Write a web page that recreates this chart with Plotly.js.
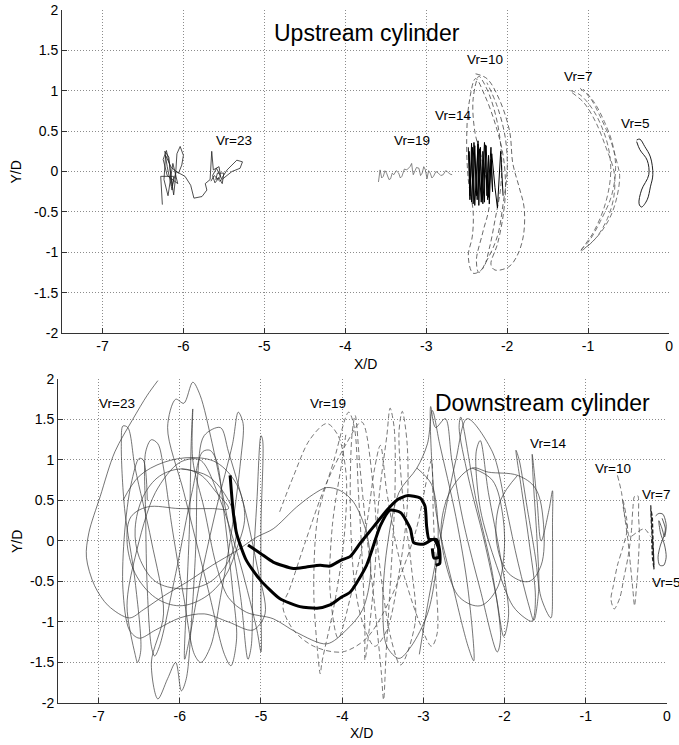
<!DOCTYPE html>
<html>
<head>
<meta charset="utf-8">
<script src="https://cdn.plot.ly/plotly-3.0.1.min.js"></script>
<style>html,body{margin:0;padding:0;background:#fff;}#chart{width:679px;height:745px;}</style>
</head>
<body>
<div id="chart"></div>
<script>
// ---------- tick labels ----------
const xTickVals = [-7, -6, -5, -4, -3, -2, -1, 0];
const xTickText = ["-7", "-6", "-5", "-4", "-3", "-2", "-1", "0"];
const yTickVals = [2, 1.5, 1, 0.5, 0, -0.5, -1, -1.5, -2];
const yTickText = ["2", "1.5", "1", "0.5", "0", "-0.5", "-1", "-1.5", "-2"];

// ---------- Upstream cylinder trajectories (X/D, Y/D) ----------
const upVr23 = [[-6.26,-0.41],[-6.28,-0.06],[-6.12,-0.06],[-6.14,-0.23],[-6.20,0.06],[-6.23,0.25],[-6.18,0.18],[-6.16,-0.02],[-6.12,-0.29],[-6.10,-0.10],[-6.08,0.22],[-6.04,0.31],[-6.00,0.20],[-6.02,0.08],[-6.06,-0.02],[-6.15,0.05],[-6.22,0.20],[-6.24,-0.10],[-6.19,-0.30],[-6.13,0.10],[-6.07,-0.15],[-6.20,-0.05],[-6.25,0.15],[-6.21,0.26],[-6.17,0.08],[-6.14,-0.18],[-6.09,0.00],[-5.98,-0.06],[-5.91,-0.17],[-5.87,-0.33],[-5.77,-0.31],[-5.71,-0.23],[-5.73,-0.15],[-5.67,-0.10],[-5.65,0.25],[-5.63,0.02],[-5.56,0.06],[-5.54,-0.06],[-5.60,-0.10],[-5.58,-0.02],[-5.50,-0.02],[-5.52,-0.15],[-5.56,-0.08],[-5.61,-0.14],[-5.64,-0.05],[-5.59,0.04],[-5.53,-0.09],[-5.46,0.02],[-5.40,0.08],[-5.34,0.14],[-5.27,0.12],[-5.30,0.04],[-5.40,0.00],[-5.48,-0.06],[-5.55,-0.12],[-5.62,-0.05],[-5.66,-0.12]];
const upVr19 = [[-3.59,-0.13],[-3.58,0.00],[-3.57,0.02],[-3.55,-0.08],[-3.53,-0.06],[-3.51,0.01],[-3.49,-0.02],[-3.46,-0.10],[-3.44,-0.09],[-3.42,-0.02],[-3.40,-0.04],[-3.37,0.01],[-3.34,-0.02],[-3.32,-0.08],[-3.30,-0.06],[-3.27,0.03],[-3.24,0.02],[-3.20,0.06],[-3.18,0.10],[-3.17,0.02],[-3.16,-0.04],[-3.12,0.05],[-3.09,0.04],[-3.07,-0.05],[-3.05,-0.02],[-3.03,0.06],[-3.01,0.02],[-2.99,-0.09],[-2.97,0.01],[-2.95,-0.02],[-2.93,-0.08],[-2.91,-0.06],[-2.88,0.00],[-2.85,-0.02],[-2.82,-0.05],[-2.79,-0.04],[-2.76,0.01],[-2.74,0.00],[-2.71,-0.03],[-2.68,-0.04]];
const upVr14 = [[-2.48,0.30],[-2.46,-0.35],[-2.44,0.35],[-2.42,-0.40],[-2.40,0.32],[-2.38,-0.30],[-2.36,0.38],[-2.35,-0.42],[-2.33,0.30],[-2.31,-0.35],[-2.30,0.25],[-2.28,-0.38],[-2.27,0.33],[-2.25,-0.30],[-2.23,0.20],[-2.22,-0.40],[-2.20,0.15],[-2.18,-0.25],[-2.20,0.30],[-2.24,-0.35],[-2.28,0.36],[-2.32,-0.38],[-2.36,0.34],[-2.40,-0.42],[-2.43,0.30],[-2.46,-0.30],[-2.47,0.25],[-2.44,-0.38],[-2.41,0.36],[-2.37,-0.35],[-2.34,0.28],[-2.30,-0.40],[-2.26,0.32],[-2.23,-0.32],[-2.19,0.22],[-2.15,-0.20],[-2.12,-0.45],[-2.08,0.25],[-2.05,-0.30]];
const upVr10 = [[-2.39,1.21],[-2.25,1.15],[-2.10,0.90],[-1.97,0.50],[-1.93,0.10],[-1.85,-0.20],[-1.79,-0.45],[-1.80,-0.80],[-1.88,-1.05],[-1.98,-1.18],[-2.15,-1.22],[-2.20,-1.15],[-2.12,-0.90],[-2.05,-0.55],[-2.02,-0.20],[-2.05,0.20],[-2.15,0.60],[-2.28,0.95],[-2.39,1.15],[-2.47,0.85],[-2.50,0.40],[-2.48,-0.10],[-2.42,-0.50],[-2.43,-0.80],[-2.48,-1.05],[-2.42,-1.26],[-2.30,-1.20],[-2.22,-0.95],[-2.15,-0.60],[-2.08,-0.20],[-2.07,0.20],[-2.12,0.60],[-2.22,0.95],[-2.32,1.15],[-2.35,1.18],[-2.42,0.90],[-2.40,0.50],[-2.30,0.10],[-2.22,-0.40],[-2.30,-0.75],[-2.38,-1.10],[-2.35,-1.25],[-2.25,-1.10],[-2.12,-0.80],[-2.05,-0.40],[-2.00,0.00],[-2.02,0.40],[-2.12,0.80],[-2.25,1.10]];
const upVr7 = [[-1.10,1.03],[-0.98,0.92],[-0.85,0.68],[-0.72,0.38],[-0.64,0.10],[-0.61,-0.05],[-0.64,-0.30],[-0.72,-0.55],[-0.84,-0.75],[-0.98,-0.90],[-1.08,-0.97],[-0.95,-0.78],[-0.82,-0.50],[-0.74,-0.20],[-0.72,0.05],[-0.75,0.30],[-0.83,0.55],[-0.95,0.78],[-1.10,0.95],[-1.22,1.00],[-1.05,0.85],[-0.90,0.60],[-0.78,0.30],[-0.68,0.00],[-0.68,-0.30],[-0.76,-0.58],[-0.90,-0.82],[-1.05,-0.96],[-1.10,-0.99],[-0.98,-0.85],[-0.85,-0.62],[-0.71,-0.30],[-0.66,0.05],[-0.70,0.35],[-0.80,0.62],[-0.92,0.85],[-1.06,1.02]];
const upVr5 = [[-0.40,0.39],[-0.36,0.40],[-0.30,0.31],[-0.23,0.18],[-0.20,-0.04],[-0.23,-0.19],[-0.27,-0.35],[-0.34,-0.44],[-0.37,-0.40],[-0.34,-0.23],[-0.25,-0.04],[-0.27,0.14],[-0.36,0.27],[-0.40,0.37]];

// ---------- Downstream cylinder trajectories (X/D, Y/D) ----------
const downVr23 = [[-6.27,1.98],[-6.40,1.80],[-6.58,1.50],[-6.80,1.10],[-6.98,0.55],[-7.12,0.10],[-7.15,-0.20],[-7.05,-0.55],[-6.88,-0.80],[-6.62,-0.95],[-6.45,-0.85],[-6.20,-0.68],[-5.90,-0.50],[-5.60,-0.30],[-5.30,-0.12],[-5.05,0.05],[-4.85,0.15],[-4.56,0.42],[-4.35,0.58],[-4.19,0.66],[-4.02,0.62],[-3.86,0.48],[-3.70,0.10],[-3.65,-0.40],[-3.75,-0.85],[-3.95,-1.10],[-4.19,-1.27],[-4.56,-1.13],[-4.85,-0.96],[-5.18,-0.88],[-5.40,-0.70],[-5.55,-0.30],[-5.70,0.40],[-5.84,1.00],[-5.84,1.63],[-5.86,1.20],[-5.88,0.20],[-5.92,-0.80],[-5.94,-1.46],[-5.90,-1.30],[-5.75,-0.50],[-5.55,0.40],[-5.35,1.20],[-5.28,1.59],[-5.22,1.45],[-5.25,1.00],[-5.35,0.20],[-5.50,-0.70],[-5.62,-1.30],[-5.74,-1.50],[-5.82,-1.40],[-5.95,-0.70],[-6.10,0.20],[-6.20,0.90],[-6.27,1.20],[-6.35,1.25],[-6.42,1.10],[-6.42,0.30],[-6.40,-0.60],[-6.35,-1.30],[-6.31,-1.42],[-6.25,-1.30],[-6.05,-0.40],[-5.85,0.60],[-5.72,1.10],[-5.63,1.12],[-5.55,1.00],[-5.45,0.30],[-5.35,-0.60],[-5.30,-1.20],[-5.37,-1.54],[-5.45,-1.40],[-5.65,-0.60],[-5.95,0.60],[-6.15,1.40],[-6.05,1.75],[-5.95,1.70],[-5.84,1.96],[-5.75,1.80],[-5.60,1.20],[-5.40,0.20],[-5.25,-0.70],[-5.16,-1.46],[-5.12,-1.30],[-5.10,-0.40],[-5.05,0.50],[-5.00,1.30],[-4.98,1.25],[-5.00,0.20],[-5.00,-0.80],[-5.00,-1.37],[-5.05,-1.10],[-5.25,-0.30],[-5.50,0.50],[-5.75,1.00],[-6.00,0.97],[-6.30,0.60],[-6.55,-0.20],[-6.65,-0.80],[-6.55,-1.40],[-6.52,-1.50],[-6.48,-1.35],[-6.55,-0.50],[-6.68,0.40],[-6.72,1.20],[-6.70,1.42],[-6.64,1.40],[-6.55,0.90],[-6.35,0.00],[-6.20,-0.90],[-6.35,-1.50],[-6.27,-1.95],[-6.15,-1.70],[-6.05,-1.50],[-5.98,-1.85],[-5.92,-1.70],[-5.85,-0.90],[-5.80,0.00],[-5.78,0.80],[-5.70,1.30],[-5.50,1.40],[-5.40,1.10],[-5.20,0.40],[-5.05,-0.30],[-4.95,-0.90],[-5.10,-1.10],[-5.40,-1.00],[-5.70,-0.90],[-6.00,-0.95],[-6.30,-1.10],[-6.50,-1.20],[-6.62,-1.10],[-6.70,-0.60],[-6.68,0.10],[-6.60,0.70],[-6.50,1.02],[-6.45,1.00],[-6.40,0.50]];
const downVr23Loops = [[-5.98,0.89],[-5.65,0.80],[-5.40,0.50],[-5.30,0.15],[-5.40,-0.25],[-5.65,-0.52],[-5.98,-0.59],[-6.30,-0.50],[-6.50,-0.20],[-6.55,0.15],[-6.45,0.55],[-6.25,0.80],[-5.98,0.89],[-5.75,0.82],[-5.55,0.60],[-5.40,0.40],[-5.60,0.40],[-6.00,0.40],[-6.40,0.42],[-6.60,0.30],[-6.65,0.00],[-6.55,-0.40],[-6.30,-0.70],[-6.00,-0.80],[-5.70,-0.70],[-5.45,-0.45],[-5.30,-0.10],[-5.20,0.30],[-5.30,0.70],[-5.55,0.97],[-5.85,1.03],[-6.20,0.97],[-6.50,0.80],[-6.70,0.50]];
const downVr19 = [[-4.77,0.36],[-4.60,0.80],[-4.40,1.25],[-4.19,1.45],[-4.05,1.30],[-3.95,0.80],[-3.98,0.00],[-4.10,-0.80],[-4.25,-1.50],[-4.27,-1.64],[-4.30,-1.40],[-4.35,-0.60],[-4.30,0.30],[-4.10,1.00],[-3.92,1.59],[-3.85,1.40],[-3.80,0.60],[-3.75,-0.30],[-3.72,-1.10],[-3.72,-1.47],[-3.68,-1.20],[-3.60,-0.40],[-3.55,0.50],[-3.45,1.30],[-3.41,1.64],[-3.36,1.40],[-3.35,0.60],[-3.40,-0.40],[-3.46,-1.40],[-3.49,-1.96],[-3.52,-1.60],[-3.60,-0.80],[-3.70,0.10],[-3.78,0.90],[-3.84,1.55],[-3.88,1.30],[-3.90,0.40],[-3.85,-0.50],[-3.75,-1.00],[-3.60,-1.30],[-3.45,-1.10],[-3.30,-0.40],[-3.20,0.40],[-3.20,1.20],[-3.26,1.60],[-3.30,1.35],[-3.25,0.50],[-3.15,-0.30],[-3.10,-1.00],[-3.28,-1.53],[-3.40,-1.20],[-3.55,-0.20],[-3.62,0.70],[-3.76,1.47],[-3.95,1.20],[-4.20,0.70],[-4.45,0.00],[-4.65,-0.60],[-4.73,-0.81],[-4.60,-1.10],[-4.35,-1.30],[-4.00,-1.37],[-3.70,-1.20],[-3.40,-0.70],[-3.10,0.10],[-2.95,0.80],[-2.90,1.00],[-2.88,0.40],[-2.85,-0.40],[-2.83,-1.14],[-2.90,-1.30],[-3.05,-1.00],[-3.30,-0.20],[-3.45,0.60],[-3.53,1.18],[-3.60,0.90],[-3.70,0.20],[-3.90,-0.70],[-4.05,-1.20],[-4.15,-0.60],[-4.12,0.20],[-4.00,1.00],[-3.95,1.35]];
const downVr14 = [[-3.08,0.90],[-2.90,0.70],[-2.82,0.20],[-2.85,-0.40],[-2.95,-0.90],[-3.15,-1.30],[-3.30,-1.45],[-3.45,-1.30],[-3.50,-0.80],[-3.45,-0.10],[-3.30,0.60],[-3.08,0.90],[-2.95,1.20],[-2.89,1.61],[-2.80,1.20],[-2.60,0.30],[-2.45,-0.60],[-2.38,-1.48],[-2.45,-1.30],[-2.65,-0.50],[-2.85,0.40],[-2.91,1.66],[-2.85,1.40],[-2.73,1.51],[-2.65,1.00],[-2.50,0.20],[-2.30,-0.60],[-2.09,-1.37],[-2.05,-1.20],[-2.15,-0.40],[-2.35,0.50],[-2.54,1.53],[-2.56,1.40],[-2.45,0.80],[-2.25,0.00],[-2.10,-0.70],[-2.01,-1.18],[-1.95,-0.90],[-2.05,-0.20],[-2.20,0.60],[-2.30,1.24],[-2.35,1.10],[-2.30,0.40],[-2.10,-0.30],[-1.90,-0.80],[-1.75,-0.95],[-1.66,-0.99],[-1.62,-0.70],[-1.70,0.00],[-1.80,0.70],[-1.86,1.12],[-1.82,1.00],[-1.72,0.40],[-1.62,-0.20],[-1.55,-0.70],[-1.43,-0.95],[-1.41,-0.50],[-1.41,0.20],[-1.41,0.62],[-1.45,0.40],[-1.55,0.00],[-1.60,0.50],[-1.66,1.07],[-1.65,0.80],[-1.60,0.00],[-1.58,-0.60],[-1.64,-0.98],[-1.70,-0.80],[-1.85,-0.20],[-2.00,0.50],[-2.15,1.10],[-2.46,1.51],[-2.60,1.00],[-2.80,0.00],[-2.95,-0.80],[-3.05,-1.40]];
const downVr14Loops = [[-2.40,0.90],[-2.15,0.75],[-2.02,0.30],[-2.01,-0.20],[-2.10,-0.60],[-2.30,-0.80],[-2.55,-0.70],[-2.72,-0.30],[-2.78,0.20],[-2.65,0.65],[-2.40,0.90],[-2.20,0.85],[-1.84,0.81],[-1.62,0.65],[-1.52,0.20],[-1.55,-0.30],[-1.70,-0.50],[-1.95,-0.40],[-2.10,0.00],[-2.05,0.50],[-1.84,0.81]];
const downMeanA = [[-5.38,0.81],[-5.34,0.34],[-5.30,0.09],[-5.18,-0.24],[-5.01,-0.48],[-4.77,-0.71],[-4.52,-0.81],[-4.31,-0.83],[-4.15,-0.79],[-4.02,-0.70],[-3.90,-0.63],[-3.70,-0.30],[-3.53,0.19],[-3.41,0.38],[-3.28,0.35],[-3.16,0.15],[-3.12,-0.02],[-3.00,-0.04],[-2.87,0.02],[-2.81,-0.10],[-2.81,-0.20],[-2.87,-0.21],[-2.89,-0.09]];
const downMeanB = [[-5.16,-0.05],[-5.01,-0.15],[-4.85,-0.26],[-4.60,-0.34],[-4.44,-0.32],[-4.27,-0.30],[-4.15,-0.31],[-4.02,-0.24],[-3.90,-0.19],[-3.78,-0.03],[-3.61,0.18],[-3.45,0.38],[-3.32,0.51],[-3.20,0.56],[-3.04,0.53],[-2.98,0.43],[-2.96,0.18],[-2.93,0.02],[-2.84,0.02],[-2.80,-0.12],[-2.80,-0.28],[-2.85,-0.30]];
const downVr10 = [[-0.61,0.81],[-0.56,0.60],[-0.53,0.35],[-0.49,0.15],[-0.55,-0.10],[-0.61,-0.30],[-0.66,-0.55],[-0.69,-0.72],[-0.65,-0.84],[-0.58,-0.70],[-0.53,-0.45],[-0.48,-0.20],[-0.44,0.10],[-0.42,0.40],[-0.40,0.55],[-0.36,0.56],[-0.35,0.30],[-0.34,0.10],[-0.35,-0.20],[-0.37,-0.50],[-0.40,-0.80],[-0.42,-0.60],[-0.45,-0.30],[-0.48,0.00],[-0.52,0.30],[-0.54,0.50],[-0.50,0.30],[-0.46,0.05],[-0.38,0.10],[-0.28,0.15],[-0.20,0.05]];
const downVr7 = [[-0.20,0.44],[-0.19,0.20],[-0.18,0.00],[-0.17,-0.20],[-0.16,-0.30],[-0.17,-0.10],[-0.19,0.15],[-0.20,0.40],[-0.18,0.30],[-0.17,0.00],[-0.16,-0.35],[-0.18,-0.20],[-0.19,0.05]];
const downVr5 = [[-0.14,0.31],[-0.10,0.34],[-0.05,0.33],[-0.01,0.20],[-0.03,0.05],[-0.06,0.15],[-0.10,0.25],[-0.08,0.10],[-0.03,-0.05],[-0.01,-0.20],[-0.04,-0.30],[-0.09,-0.30],[-0.11,-0.20],[-0.08,-0.05],[-0.04,0.05],[-0.02,0.15],[-0.06,0.28]];

// ---------- labels ----------
const upLabels = [["Vr=23",-5.38,0.39],["Vr=19",-3.17,0.39],["Vr=14",-2.67,0.69],["Vr=10",-2.27,1.39],["Vr=7",-1.12,1.18],["Vr=5",-0.42,0.59]];
const downLabels = [["Vr=23",-6.77,1.70],["Vr=19",-4.17,1.70],["Vr=14",-1.47,1.20],["Vr=10",-0.67,0.90],["Vr=7",-0.14,0.58],["Vr=5",-0.01,-0.51]];
const upTitle = "Upstream cylinder";
const downTitle = "Downstream cylinder";

const FONT = "Liberation Sans, Arial, Helvetica, sans-serif";

function tr(pts, xa, ya, color, width, dash, smooth) {
  const line = {color: color, width: width, dash: dash || "solid"};
  if (smooth) { line.shape = "spline"; line.smoothing = smooth; }
  return {x: pts.map(p => p[0]), y: pts.map(p => p[1]), xaxis: xa, yaxis: ya,
    type: "scatter", mode: "lines", line: line, hoverinfo: "skip", showlegend: false};
}

const traces = [
  tr(upVr23, "x", "y", "#222", 0.8),
  tr(upVr19, "x", "y", "#555", 0.7),
  tr(upVr10, "x", "y", "#444", 0.8, "5px,3px", 1),
  tr(upVr14, "x", "y", "#000", 1.0),
  tr(upVr7, "x", "y", "#555", 0.8, "5px,3px", 1),
  tr(upVr5, "x", "y", "#222", 1.0, null, 1),
  tr(downVr23, "x2", "y2", "#3a3a3a", 0.7, null, 0.9),
  tr(downVr23Loops, "x2", "y2", "#3a3a3a", 0.7, null, 1),
  tr(downVr19, "x2", "y2", "#555", 0.8, "5px,3px", 0.9),
  tr(downVr14, "x2", "y2", "#3a3a3a", 0.7, null, 0.9),
  tr(downVr14Loops, "x2", "y2", "#3a3a3a", 0.7, null, 1),
  tr(downVr10, "x2", "y2", "#555", 0.8, "5px,3px", 0.8),
  tr(downVr7, "x2", "y2", "#222", 1.2, "4px,2px"),
  tr(downVr5, "x2", "y2", "#333", 0.8, null, 0.8),
  tr(downMeanA, "x2", "y2", "#000", 3, null, 0.6),
  tr(downMeanB, "x2", "y2", "#000", 3, null, 0.6)
];

function xax(domain, anchor) {
  return {domain: domain, anchor: anchor, range: [-7.5, 0], tickmode: "array",
    tickvals: xTickVals, ticktext: xTickText, ticks: "inside", ticklen: 5, tickcolor: "#333",
    showline: true, linecolor: "#333", linewidth: 1, mirror: false,
    showgrid: true, gridcolor: "#8c8c8c", griddash: "1px,2px", gridwidth: 1, zeroline: false,
    tickfont: {family: FONT, size: 14, color: "#000"}, fixedrange: true};
}
function yax(domain, anchor) {
  return {domain: domain, anchor: anchor, range: [-2, 2], tickmode: "array",
    tickvals: yTickVals, ticktext: yTickText, ticks: "inside", ticklen: 5, tickcolor: "#333",
    showline: true, linecolor: "#333", linewidth: 1, mirror: false,
    showgrid: true, gridcolor: "#8c8c8c", griddash: "1px,2px", gridwidth: 1, zeroline: false,
    tickfont: {family: FONT, size: 14, color: "#000"}, fixedrange: true};
}

const annotations = [];
upLabels.forEach(l => annotations.push({text: l[0], x: l[1], y: l[2], xref: "x", yref: "y",
  showarrow: false, xanchor: "center", yanchor: "middle", font: {family: FONT, size: 13.5, color: "#000"}}));
downLabels.forEach(l => annotations.push({text: l[0], x: l[1], y: l[2], xref: "x2", yref: "y2",
  showarrow: false, xanchor: "center", yanchor: "middle", font: {family: FONT, size: 13.5, color: "#000"}}));
annotations.push({text: upTitle, x: -3.73, y: 1.72, xref: "x", yref: "y", showarrow: false,
  xanchor: "center", yanchor: "middle", font: {family: FONT, size: 23, color: "#000"}});
annotations.push({text: downTitle, x: -1.53, y: 1.70, xref: "x2", yref: "y2", showarrow: false,
  xanchor: "center", yanchor: "middle", font: {family: FONT, size: 23, color: "#000"}});
annotations.push({text: "X/D", x: 0.5376, y: 0.512, xref: "paper", yref: "paper", showarrow: false,
  xanchor: "center", yanchor: "middle", font: {family: FONT, size: 14, color: "#000"}});
annotations.push({text: "X/D", x: 0.533, y: 0.016, xref: "paper", yref: "paper", showarrow: false,
  xanchor: "center", yanchor: "middle", font: {family: FONT, size: 14, color: "#000"}});
annotations.push({text: "Y/D", x: 0.025, y: 0.7698, xref: "paper", yref: "paper", showarrow: false,
  textangle: -90, xanchor: "center", yanchor: "middle", font: {family: FONT, size: 14, color: "#000"}});
annotations.push({text: "Y/D", x: 0.025, y: 0.2738, xref: "paper", yref: "paper", showarrow: false,
  textangle: -90, xanchor: "center", yanchor: "middle", font: {family: FONT, size: 14, color: "#000"}});

const layout = {
  width: 679, height: 745, margin: {l: 0, r: 0, t: 0, b: 0},
  paper_bgcolor: "#fff", plot_bgcolor: "#fff", showlegend: false,
  xaxis: xax([0.0913, 0.9853], "y"),
  yaxis: yax([0.5530, 0.9866], "x"),
  xaxis2: xax([0.0854, 0.9823], "y2"),
  yaxis2: yax([0.0564, 0.4913], "x2"),
  annotations: annotations
};

Plotly.newPlot("chart", traces, layout, {staticPlot: true, displayModeBar: false});
</script>
</body>
</html>
